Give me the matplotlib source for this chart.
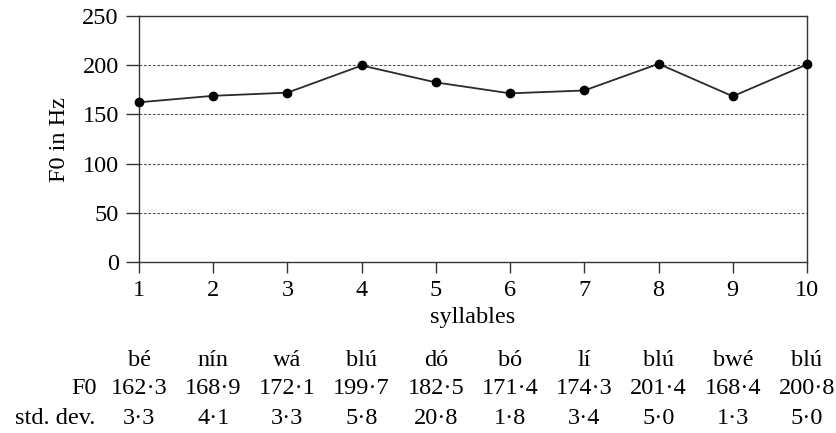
import matplotlib
matplotlib.use("Agg")
import matplotlib.pyplot as plt
import matplotlib.transforms as mtransforms

plt.rcParams['font.family'] = ['Liberation Serif', 'DejaVu Serif']

positions = [1, 2, 3, 4, 5, 6, 7, 8, 9, 10]
syllables = ["bé", "nín", "wá", "blú", "dó", "bó", "lí", "blú", "bwé", "blú"]
f0 = [162.3, 168.9, 172.1, 199.7, 182.5, 171.4, 174.3, 201.4, 168.4, 200.8]
std_dev = [3.3, 4.1, 3.3, 5.8, 20.8, 1.8, 3.4, 5.0, 1.3, 5.0]


def fmt(v):
    return f"{v:.1f}".replace(".", "\u00b7")


fig = plt.figure(figsize=(8.36, 4.33), dpi=100)
ax = fig.add_axes([139 / 836, 1 - 262 / 433, (807 - 139) / 836, (262 - 16) / 433])

ax.plot(positions, f0, color='#2a2a2a', lw=1.3, marker='o', ms=6,
        markerfacecolor='black', markeredgecolor='black', clip_on=False, zorder=3)

ax.set_xlim(1, 10)
ax.set_ylim(0, 250)
ax.set_xticks(positions)
ax.set_yticks([0, 50, 100, 150, 200, 250])
for y in [50, 100, 150, 200]:
    ax.axhline(y, color='#555555', lw=0.8, ls=(0, (2.5, 1.5)), zorder=1)

for s in ax.spines.values():
    s.set_color('#333333')
    s.set_linewidth(1.0)
ax.tick_params(axis='y', length=9.5, width=1.0, color='#333333', labelsize=17.5, pad=5)
ax.tick_params(axis='x', length=8, width=1.0, color='#333333', labelsize=17.5, pad=5)

ax.set_ylabel("F0 in Hz", fontsize=17.5, labelpad=9)
ax.set_xlabel("syllables", fontsize=17.5, labelpad=4)

# table under the chart, columns follow the x ticks
fs = 17.5
trans = mtransforms.blended_transform_factory(ax.transData, fig.transFigure)
for x, syl, f, sd in zip(positions, syllables, f0, std_dev):
    ax.text(x, 1 - 360 / 433, syl, ha='center', va='center', fontsize=fs, transform=trans)
    ax.text(x, 1 - 389 / 433, fmt(f), ha='center', va='center', fontsize=fs, transform=trans)
    ax.text(x, 1 - 418 / 433, fmt(sd), ha='center', va='center', fontsize=fs, transform=trans)
fig.text(97 / 836, 1 - 389 / 433, "F0", ha='right', va='center', fontsize=fs)
fig.text(95 / 836, 1 - 418 / 433, "std. dev.", ha='right', va='center', fontsize=fs)

fig.savefig("out.png", dpi=100)
